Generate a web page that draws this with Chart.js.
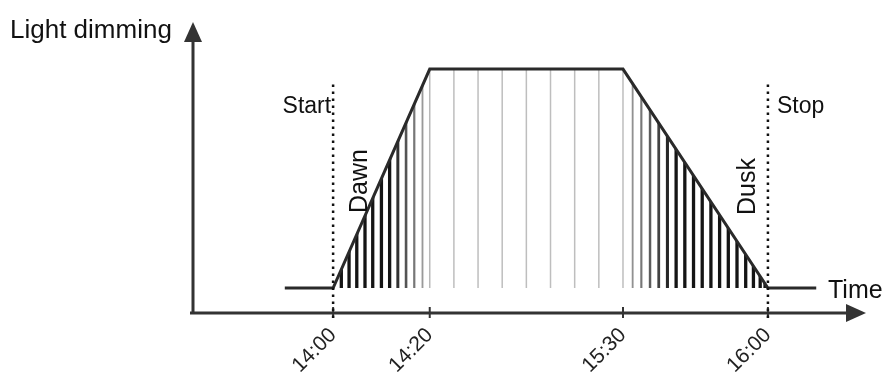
<!DOCTYPE html>
<html>
<head>
<meta charset="utf-8">
<script src="https://cdn.jsdelivr.net/npm/chart.js@4/dist/chart.umd.min.js"></script>
<style>
  html, body { margin:0; padding:0; background:#fff; }
  #wrap { width:891px; height:374px; position:relative; }
</style>
</head>
<body>
<div id="wrap"><canvas id="chart"></canvas></div>
<script>
// ── data (schematic time positions, not to scale) ──
const tickPos    = [0, 2, 6, 9];
const tickLabels = ['14:00', '14:20', '15:30', '16:00'];
const curveX     = [-1, 0, 2, 6, 9, 10];
const curveY     = [0, 0, 100, 100, 0, 0];
const dawnHatch  = [0.17, 0.33, 0.49, 0.66, 0.82, 1.0, 1.17, 1.34, 1.51, 1.68, 1.85, 2.0];
const dayHatch   = [2.5, 3.0, 3.5, 4.0, 4.5, 5.0, 5.5, 6.0];
const duskHatch  = [6.2, 6.38, 6.56, 6.74, 6.92, 7.1, 7.28, 7.46, 7.64, 7.82, 8.0, 8.18, 8.36, 8.54, 8.7, 8.84, 8.94];
const startPos = 0, stopPos = 9;

const FONT = '"Liberation Sans", Arial, Helvetica, sans-serif';
const INK  = '#111';
const AXIS = '#333';

const schema = {
  id: 'schema',
  beforeDatasetsDraw(chart) {
    const { ctx, scales: { x, y } } = chart;
    const pts = chart.getDatasetMeta(0).data;
    const top = y.getPixelForValue(105), base = y.getPixelForValue(0);
    ctx.save();
    ctx.beginPath();
    pts.forEach((p, i) => i ? ctx.lineTo(p.x, p.y) : ctx.moveTo(p.x, p.y));
    ctx.closePath();
    ctx.clip();
    const stroke = (v, g, w) => {
      const px = x.getPixelForValue(v);
      ctx.strokeStyle = `rgb(${g},${g},${g})`;
      ctx.lineWidth = w;
      ctx.beginPath(); ctx.moveTo(px, base + 1); ctx.lineTo(px, top); ctx.stroke();
    };
    dawnHatch.forEach(v => {
      const t = (v - startPos) / (tickPos[1] - startPos);
      const f = t < 0.6 ? 0 : (t - 0.6) / 0.4;
      stroke(v, Math.round(20 + f * 165), 3.3 - f * 1.8);
    });
    dayHatch.forEach(v => stroke(v, 190, 1.5));
    duskHatch.forEach(v => {
      const s = (stopPos - v) / (stopPos - tickPos[2]);
      const f = s < 0.65 ? 0 : (s - 0.65) / 0.35;
      stroke(v, Math.round(20 + f * 155), 3.3 - f * 1.8);
    });
    ctx.restore();
  },
  afterDraw(chart) {
    const { ctx, chartArea: a, scales: { x, y } } = chart;
    const ay = a.bottom, ax = a.left;
    ctx.save();
    // axes
    ctx.strokeStyle = AXIS; ctx.fillStyle = AXIS; ctx.lineWidth = 3;
    ctx.beginPath(); ctx.moveTo(ax - 3, ay); ctx.lineTo(a.right - 12, ay); ctx.stroke();
    ctx.beginPath(); ctx.moveTo(ax, ay + 1); ctx.lineTo(ax, a.top + 12); ctx.stroke();
    ctx.beginPath(); ctx.moveTo(a.right, ay); ctx.lineTo(a.right - 20, ay - 9); ctx.lineTo(a.right - 20, ay + 9); ctx.closePath(); ctx.fill();
    ctx.beginPath(); ctx.moveTo(ax, a.top); ctx.lineTo(ax - 9, a.top + 20); ctx.lineTo(ax + 9, a.top + 20); ctx.closePath(); ctx.fill();
    // tick marks
    ctx.lineWidth = 2;
    tickPos.forEach(v => {
      const px = x.getPixelForValue(v);
      ctx.beginPath(); ctx.moveTo(px, ay - 6); ctx.lineTo(px, ay + 5); ctx.stroke();
    });
    // start / stop dotted
    ctx.strokeStyle = '#111'; ctx.lineWidth = 2.5; ctx.setLineDash([2.5, 4.5]);
    [startPos, stopPos].forEach(v => {
      const px = x.getPixelForValue(v);
      ctx.beginPath(); ctx.moveTo(px, y.getPixelForValue(93)); ctx.lineTo(px, ay + 7); ctx.stroke();
    });
    ctx.setLineDash([]);
    // texts
    ctx.fillStyle = INK;
    ctx.textBaseline = 'alphabetic';
    ctx.font = `26px ${FONT}`;
    ctx.textAlign = 'left';
    ctx.fillText('Light dimming', 10, 38);
    ctx.font = `25px ${FONT}`;
    ctx.fillText('Time', 828, 298);
    const sx = x.getPixelForValue(startPos), ex = x.getPixelForValue(stopPos);
    ctx.font = `23px ${FONT}`;
    ctx.textAlign = 'right';
    ctx.fillText('Start', sx - 2, 113);
    ctx.textAlign = 'left';
    ctx.fillText('Stop', ex + 9, 113);
    ctx.font = `25px ${FONT}`;
    [['Dawn', sx + 34, 213], ['Dusk', ex - 13, 215]].forEach(([t, px, py]) => {
      ctx.save(); ctx.translate(px, py); ctx.rotate(-Math.PI / 2);
      ctx.fillText(t, 0, 0); ctx.restore();
    });
    ctx.restore();
  }
};

new Chart(document.getElementById('chart'), {
  type: 'line',
  data: {
    datasets: [{
      data: curveX.map((v, i) => ({ x: v, y: curveY[i] })),
      borderColor: '#2a2a2a', borderWidth: 3, pointRadius: 0, tension: 0, fill: false
    }]
  },
  options: {
    responsive: true, maintainAspectRatio: false, animation: false,
    layout: { padding: { left: 193, right: 25, top: 22, bottom: 0 } },
    plugins: { legend: { display: false }, tooltip: { enabled: false } },
    scales: {
      x: {
        type: 'linear', min: -2.9, max: 11.03,
        grid: { display: false, drawTicks: false }, border: { display: false },
        afterBuildTicks: s => { s.ticks = tickPos.map(v => ({ value: v })); },
        afterFit: s => { s.height = 61; },
        ticks: {
          autoSkip: false, minRotation: 45, maxRotation: 45, padding: 10,
          color: '#222', font: { size: 21, family: FONT },
          callback: v => tickLabels[tickPos.indexOf(v)]
        }
      },
      y: { display: false, min: -11.4, max: 121.5 }
    }
  },
  plugins: [schema]
});
</script>
</body>
</html>
